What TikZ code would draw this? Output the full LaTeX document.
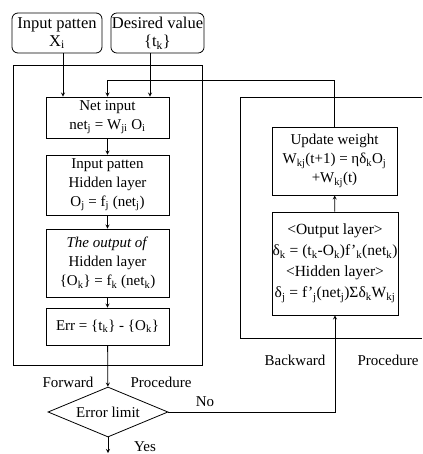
\documentclass[tikz,border=0pt]{standalone}
\usepackage{fontspec}
\setmainfont{Liberation Serif}
\usetikzlibrary{shapes.geometric}
\newcommand{\sbs}[1]{\textsubscript{#1}}

\begin{document}
\fontsize{15}{19}\selectfont
\begin{tikzpicture}[x=1pt, y=-1pt, >=stealth, line width=0.8pt,
        box/.style={draw, align=center, inner sep=1pt},
        inbox/.style={box, rounded corners=6pt, minimum height=40pt,
            font=\fontsize{16.5}{18}\selectfont}]
        \useasboundingbox (0,0) rectangle (422,454);

        % 输入节点
        \node[inbox, minimum width=90pt] (inpat) at (57,33) {Input patten\\X\sbs{i}};
        \node[inbox, minimum width=91pt] (desired) at (157.5,33) {Desired value\\\{t\sbs{k}\}};

        % 前向过程
        \draw (13,65) rectangle (202,365);
        \node[box, minimum width=123pt, minimum height=41pt] (net) at (107.5,117.5)
            {Net input\\net\sbs{j} = W\sbs{ji} O\sbs{i}};
        \node[box, minimum width=123pt, minimum height=60pt] (hidden) at (107.5,185)
            {Input patten\\Hidden layer\\O\sbs{j} = f\sbs{j} (net\sbs{j})};
        \node[box, minimum width=123pt, minimum height=68pt] (outp) at (107.5,263)
            {\textit{The output of}\\Hidden layer\\\{O\sbs{k}\} = f\sbs{k} (net\sbs{k})};
        \node[box, minimum width=123pt, minimum height=37pt] (err) at (107.5,326.5)
            {Err = \{t\sbs{k}\} - \{O\sbs{k}\}};
        \node (fwd) at (68,382) {Forward};
        \node (fproc) at (161,382) {Procedure};
        \node[draw, diamond, aspect=2.4, minimum width=120pt, minimum height=50pt, inner sep=0pt]
            (limit) at (108,412) {Error limit};
        \coordinate (out) at (108,453);
        \node (yes) at (145,447) {Yes};

        % 反向过程
        \draw (422,97) -- (240,97) -- (240,338) -- (422,338);
        \node[box, minimum width=125pt, minimum height=68pt] (update) at (334.5,161)
            {Update weight\\W\sbs{kj}(t+1) = ηδ\sbs{k}O\sbs{j}\\+W\sbs{kj}(t)};
        \node[box, minimum width=126pt, minimum height=103pt, inner sep=0pt,
            font=\fontsize{15.5}{21}\selectfont] (delta) at (335,263.5)
            {<Output layer>\\δ\sbs{k} = (t\sbs{k}-O\sbs{k})f’\sbs{k}(net\sbs{k})\\<Hidden layer>\\δ\sbs{j} = f’\sbs{j}(net\sbs{j})Σδ\sbs{k}W\sbs{kj}};
        \node (bwd) at (295,360) {Backward};
        \node (bproc) at (388,360) {Procedure};
        \coordinate (fb) at (107.5,80);

        % 连线
        \draw[->] ([xshift=6pt]inpat.south) -- ([xshift=-44.5pt]net.north);
        \draw[->] ([xshift=-7.5pt]desired.south) -- ([xshift=42.5pt]net.north);
        \draw[->] (update.north) |- (fb) -- (net.north);
        \draw[->] (net) -- (hidden);
        \draw[->] (hidden) -- (outp);
        \draw[->] (outp) -- (err);
        \draw[->] (err) -- (limit);
        \draw[->] (limit) -- (out);
        \draw[->] (limit.east) -| (delta.south) node[pos=0.11, above] {No};
        \draw[->] (delta) -- (update);
\end{tikzpicture}
\end{document}
